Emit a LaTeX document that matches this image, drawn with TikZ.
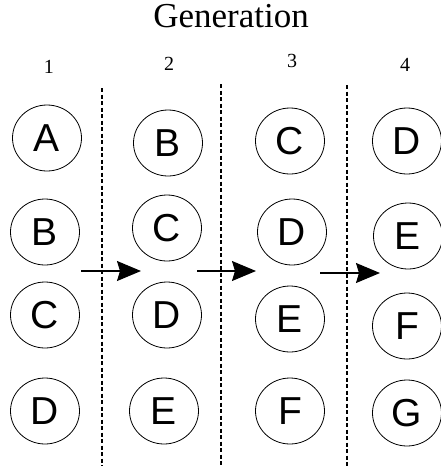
\documentclass[tikz,border=0pt]{standalone}
\usepackage{fontspec}
\setmainfont{Liberation Serif}
\newfontfamily\arialfont{Liberation Sans}
\usetikzlibrary{shapes.geometric,arrows.meta}
\begin{document}
\begin{tikzpicture}[x=1pt,y=-1pt,
  gen/.style={draw,ellipse,line width=0.8pt,minimum width=69pt,minimum height=66pt,inner sep=0pt,font=\arialfont\fontsize{39}{41}\selectfont},
  sep/.style={line width=1.2pt,dash pattern=on 4pt off 2.5pt},
  adv/.style={line width=1.3pt,-{Stealth[length=24pt,width=20pt,inset=3pt]}},
  num/.style={anchor=base,font=\fontsize{20}{22}\selectfont},
  ttl/.style={anchor=base,font=\fontsize{35}{38}\selectfont}]
\useasboundingbox (0,0) rectangle (441,467);
\node[ttl] (title) at (231,27) {Generation};
\node[num] (n1) at (49,73) {1};
\node[num] (n2) at (169,70) {2};
\node[num] (n3) at (292,67) {3};
\node[num] (n4) at (405,71) {4};
% separators
\coordinate (s1t) at (102,88); \coordinate (s1b) at (102,466);
\coordinate (s2t) at (221,84); \coordinate (s2b) at (221,466);
\coordinate (s3t) at (347,85); \coordinate (s3b) at (347,466);
\draw[sep] (s1t) -- (s1b);
\draw[sep] (s2t) -- (s2b);
\draw[sep] (s3t) -- (s3b);
% column 1
\node[gen] (a1) at (47,138) {A};
\node[gen] (b1) at (45,232) {B};
\node[gen] (c1) at (45,315) {C};
\node[gen] (d1) at (45,411) {D};
% column 2
\node[gen] (b2) at (168,143) {B};
\node[gen] (c2) at (167,228) {C};
\node[gen] (d2) at (167,315) {D};
\node[gen] (e2) at (164,411) {E};
% column 3
\node[gen] (c3) at (290,141) {C};
\node[gen] (d3) at (292,232) {D};
\node[gen] (e3) at (290,319) {E};
\node[gen] (f3) at (290,411) {F};
% column 4
\node[gen] (d4) at (407,141) {D};
\node[gen] (e4) at (408,236) {E};
\node[gen] (f4) at (407,326) {F};
\node[gen] (g4) at (407,413) {G};
% arrows
\coordinate (a1s) at (81,271); \coordinate (a1e) at (141,271);
\coordinate (a2s) at (197,271); \coordinate (a2e) at (256,271);
\coordinate (a3s) at (320,273); \coordinate (a3e) at (380,273);
\draw[adv] (a1s) -- (a1e);
\draw[adv] (a2s) -- (a2e);
\draw[adv] (a3s) -- (a3e);
\end{tikzpicture}
\end{document}
